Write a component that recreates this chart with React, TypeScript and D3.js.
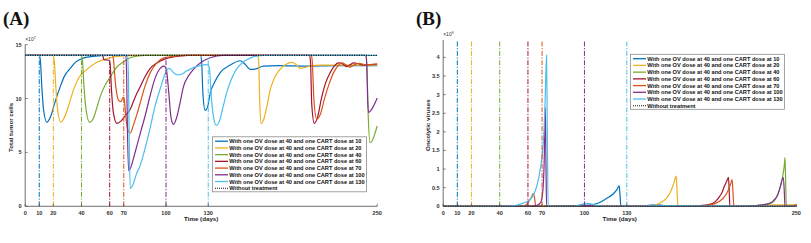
import React from "react";
import * as d3 from "d3";

const COLORS = ["#0072BD", "#EDB120", "#77AC30", "#A2142F", "#D95319", "#7E2F8E", "#4DBEEE"];
const cartDays = [10, 20, 40, 60, 70, 100, 130];
const xTicks = [0, 10, 20, 40, 60, 70, 100, 130, 250];
const tumorYTicks = [0, 5, 10, 15];
const virusYTicks = [0, 0.5, 1, 1.5, 2, 2.5, 3, 3.5, 4];
const legendLabels = [
  "With one OV dose at 40 and one CART dose at 10",
  "With one OV dose at 40 and one CART dose at 20",
  "With one OV dose at 40 and one CART dose at 40",
  "With one OV dose at 40 and one CART dose at 60",
  "With one OV dose at 40 and one CART dose at 70",
  "With one OV dose at 40 and one CART dose at 100",
  "With one OV dose at 40 and one CART dose at 130",
  "Without treatment",
];

// Panel A: total tumor cells (x10^7)
const tumorCart10 = [[0,14],[10,14],[10.8,13.5],[11.8,11.1],[13,9],[15.4,7.8],[18,8.3],[21,9.6],[24.9,11.1],[28,12.1],[32,12.8],[36,13.4],[40.2,13.7],[48,13.9],[60,14],[124.5,14],[125.3,13.4],[126.2,10.5],[127.8,8.9],[129.5,9.2],[131.4,10.5],[134.5,11.5],[138.5,12.4],[145.6,13.1],[152.7,13.5],[156,13.2],[159.8,12.7],[164,12.75],[169,13.0],[180,13.05],[200,13.0],[220,13.05],[250,13.05]];
const tumorCart20 = [[0,14],[20,14],[20.7,13.4],[21.8,11],[23,9],[25.3,7.8],[28,8.3],[31,9.4],[34.3,10.8],[38,11.9],[43.8,12.7],[50,13.3],[55.4,13.6],[65,13.9],[80,14],[165.2,14],[165.9,13.2],[166.6,9.5],[167.6,7.7],[169.5,8.1],[172,9.5],[174,10.8],[177,11.9],[181,12.7],[185,13.15],[189.4,13.35],[192,13.2],[195.3,12.8],[198,12.85],[202,13.0],[210,13.1],[250,13.1]];
const tumorCart40 = [[0,14],[40,14],[40.7,13.4],[41.8,11],[43.2,9],[45.7,7.8],[48.5,8.2],[51,9.2],[53.3,10.2],[57,11.3],[60.4,12.0],[65,12.9],[69.8,13.4],[75,13.8],[85,14],[242,14],[242.7,13],[243.6,8.5],[245,5.9],[246.5,6.1],[248,6.6],[250,7.45]];
const tumorCart60 = [[0,14],[55,14],[56,13.6],[59.5,13.55],[60.3,13.2],[61.2,11],[62.5,8.8],[65.1,7.7],[68,7.9],[71,8.4],[74.6,9.0],[78,10.1],[81.7,11.1],[85,12.0],[88.8,12.8],[93.5,13.3],[100,13.7],[105,13.85],[115,14],[202,14],[202.7,13.2],[203.5,9.5],[205.3,7.7],[207.5,8.2],[210.7,10.2],[213.5,11.5],[216.6,12.4],[219.5,13.0],[222.5,13.3],[225.5,13.2],[228.5,12.95],[231,13.15],[233,13.3],[236,13.25],[240,13.1],[245,13.15],[250,13.2]];
const tumorCart70 = [[0,14],[62,14],[62.8,13.5],[63.8,11.8],[65.1,10.4],[66.5,9.8],[68,9.7],[69.5,10.1],[70.3,10.0],[71,9.0],[72.5,7.3],[74.6,6.8],[77,7.6],[79.5,8.6],[81.7,9.6],[85,11.1],[88.8,12.4],[93.5,13.3],[98,13.75],[105,13.9],[115,14],[203.3,14],[204,13.2],[205,10],[207,8.1],[209.5,8.5],[213,10.2],[216,11.4],[219,12.4],[222,13.0],[225,13.3],[228,13.1],[230.5,12.9],[233.5,13.1],[237,13.25],[242,13.15],[250,13.2]];
const tumorCart100 = [[0,14],[71.5,14],[72,12.5],[72.5,8],[73.4,3.3],[75,3.6],[77,4.5],[79.3,5.6],[82,6.9],[85.2,8.4],[88.8,10.3],[92,11.8],[95.9,12.8],[98.5,13.0],[99.5,12.9],[100.5,12.5],[102,10.5],[103.5,8.3],[105.3,7.6],[107.5,8.2],[110,9.6],[112.4,11.1],[116,12.1],[119.5,12.7],[125.5,13.4],[132,13.8],[140,14],[242,14],[242.6,13],[243.2,10],[243.8,8.7],[245,8.8],[247,9.2],[250,10.05]];
const tumorCart130 = [[0,14],[72.8,14],[73.3,12],[73.9,6],[74.6,1.65],[76.5,2.0],[79,3.0],[81.7,3.8],[85,5.3],[88.8,7.3],[92,9.2],[95.9,10.9],[99.4,12.3],[101.8,12.8],[103.5,12.7],[105.3,12.4],[108,12.2],[111,12.25],[114,12.5],[117,12.7],[120,12.9],[124,13.05],[128,13.15],[130,13.1],[131,12.6],[132,10.5],[133.5,8.5],[135.7,7.5],[138,7.9],[140.5,9.2],[143,10.5],[146.5,11.8],[150,12.7],[154,13.3],[157.5,13.6],[163,13.9],[170,14],[250,14]];
const tumorNoTreatment = [[0,14],[250,14]];

// Panel B: oncolytic viruses (x10^9)
const virusCart10 = [[0,0],[80,0],[95,0.01],[105,0.04],[110,0.09],[115.6,0.21],[120.3,0.33],[123,0.45],[124.6,0.55],[125.2,0.3],[125.8,0],[140,0],[147,0.03],[152,0.04],[157,0.02],[165,0],[250,0]];
const virusCart20 = [[0,0],[140,0],[148,0.02],[152,0.06],[155,0.12],[158,0.21],[161.5,0.44],[163.5,0.65],[165,0.81],[165.6,0.4],[166.2,0],[215,0],[225,0.03],[240,0.04],[250,0.04]];
const virusCart40 = [[0,0],[215,0],[225,0.03],[230,0.06],[233.3,0.1],[236,0.25],[238,0.44],[240.3,0.8],[241.5,1.1],[242,1.31],[242.5,0.6],[243,0],[250,0]];
const virusCart60 = [[0,0],[175,0],[182,0.02],[187,0.04],[190.8,0.08],[193,0.14],[195.6,0.26],[197.5,0.38],[199,0.53],[200.8,0.68],[202,0.78],[202.5,0.4],[203,0],[250,0]];
const virusCart70 = [[0,0],[57,0],[59,0.05],[61,0.15],[62.5,0.25],[63.8,0.35],[64.8,0.2],[65.5,0],[180,0],[186,0.02],[190.8,0.05],[195,0.12],[198,0.21],[201.4,0.4],[203.5,0.6],[204.6,0.72],[205.2,0.35],[205.8,0],[245,0],[250,0.04]];
const virusCart100 = [[0,0],[60,0],[66,0.02],[69,0.1],[70.5,0.4],[71.5,1.2],[72.3,2.65],[72.8,1.0],[73.2,0],[90,0],[95,0.02],[100,0.03],[105,0.01],[110,0],[215,0],[225,0.03],[231,0.08],[234,0.16],[236.8,0.3],[238.5,0.5],[240.8,0.78],[241.5,0.4],[242,0],[250,0]];
const virusCart130 = [[0,0],[40,0],[48,0.01],[53,0.04],[56,0.08],[59,0.12],[62,0.2],[63.8,0.3],[65.5,0.45],[67.3,0.7],[68.5,0.95],[69.7,1.24],[70.5,1.55],[71.3,1.96],[72.2,2.9],[73.2,4.06],[73.7,2],[74.3,0],[92,0],[97,0.04],[101.5,0.08],[105,0.06],[109,0.02],[115,0],[140,0],[150,0.02],[165,0.02],[175,0.01],[250,0]];
const virusNoTreatment = [[0,0],[250,0]];

const tumorSeries = [tumorCart10, tumorCart20, tumorCart40, tumorCart60, tumorCart70, tumorCart100, tumorCart130];
const virusSeries = [virusCart10, virusCart20, virusCart40, virusCart60, virusCart70, virusCart100, virusCart130];

const FONT = "'Liberation Sans', Arial, sans-serif";
const AXIS = "#4a4a4a";

type PanelProps = {
  x0: number; x1: number; y0: number; y1: number; yMax: number;
  yTicks: number[]; series: number[][][]; baseline: number[][];
  vTop: number; yLabel: string; exp: string; title: string; titleX: number;
  yLabelX: number; legend: { x: number; y: number };
  tickFmt: (v: number) => string;
};

function Panel(p: PanelProps) {
  const x = d3.scaleLinear().domain([0, 250]).range([p.x0, p.x1]);
  const y = d3.scaleLinear().domain([0, p.yMax]).range([p.y0, p.y1]);
  const line = d3.line<number[]>().x(d => x(d[0])).y(d => y(d[1])).curve(d3.curveMonotoneX);
  const lw = 154, lh = 55, row = 6.72;
  return (
    <g>
      <text x={p.titleX} y={25} fontFamily="'Liberation Serif', 'Times New Roman', serif" fontWeight="bold" fontSize={19} fill="#111">{p.title}</text>
      {p.series.map((s, i) => (
        <path key={"s" + i} d={line(s) || ""} fill="none" stroke={COLORS[i]} strokeWidth={1.2} />
      ))}
      {cartDays.map((d, i) => (
        <line key={"v" + i} x1={x(d)} x2={x(d)} y1={y(0)} y2={y(p.vTop)} stroke={COLORS[i]} strokeWidth={1} strokeDasharray="5,1.6,1.2,1.6" />
      ))}
      <path d={line(p.baseline) || ""} fill="none" stroke="#111" strokeWidth={1.3} strokeDasharray="1.2,1.2" />
      {/* axes */}
      <line x1={p.x0} x2={p.x0} y1={p.y0} y2={y(p.yMax)} stroke={AXIS} strokeWidth={0.8} />
      <line x1={p.x0} x2={p.x1} y1={p.y0} y2={p.y0} stroke={AXIS} strokeWidth={0.8} />
      {xTicks.map(t => (
        <g key={"xt" + t}>
          <line x1={x(t)} x2={x(t)} y1={p.y0} y2={p.y0 - 2.5} stroke={AXIS} strokeWidth={0.7} />
          <text x={x(t)} y={p.y0 + 8.3} textAnchor="middle" fontFamily={FONT} fontWeight="bold" fontSize={5.6} fill="#333">{t}</text>
        </g>
      ))}
      {p.yTicks.map(t => (
        <g key={"yt" + t}>
          <line x1={p.x0} x2={p.x0 + 2.5} y1={y(t)} y2={y(t)} stroke={AXIS} strokeWidth={0.7} />
          <text x={p.x0 - 3.5} y={y(t) + 2} textAnchor="end" fontFamily={FONT} fontWeight="bold" fontSize={5.6} fill="#333">{p.tickFmt(t)}</text>
        </g>
      ))}
      <text x={p.x0} y={y(p.yMax) - 4} fontFamily={FONT} fontSize={5} fill="#333">
        ×10<tspan fontSize={3.6} dy={-2}>{p.exp}</tspan>
      </text>
      <text x={(p.x0 + p.x1) / 2} y={221} textAnchor="middle" fontFamily={FONT} fontWeight="bold" fontSize={6.2} fill="#222">Time (days)</text>
      <text transform={`translate(${p.yLabelX},${(p.y0 + y(p.yMax)) / 2 + 2}) rotate(-90)`} textAnchor="middle" fontFamily={FONT} fontWeight="bold" fontSize={6.2} fill="#222">{p.yLabel}</text>
      {/* legend */}
      <g transform={`translate(${p.legend.x},${p.legend.y})`}>
        <rect x={0} y={0} width={lw} height={lh} fill="#fff" stroke="#8c8c8c" strokeWidth={0.8} />
        {legendLabels.map((lab, i) => {
          const cy = 4.4 + i * row;
          return (
            <g key={"lg" + i}>
              {i < 7 ? (
                <line x1={2.5} x2={15.5} y1={cy} y2={cy} stroke={COLORS[i]} strokeWidth={1.3} />
              ) : (
                <line x1={2.5} x2={15.5} y1={cy} y2={cy} stroke="#111" strokeWidth={1.1} strokeDasharray="1,1" />
              )}
              <text x={16.8} y={cy + 2} fontFamily={FONT} fontWeight="bold" fontSize={5.65} fill="#111">{lab}</text>
            </g>
          );
        })}
      </g>
    </g>
  );
}

export default function App() {
  return (
    <svg width={811} height={243} style={{ position: "absolute", left: 0, top: 0, background: "#fff" }}>
      <rect width={811} height={243} fill="#fff" />
      <Panel
        x0={25.2} x1={377.2} y0={206.3} y1={44.6} yMax={15}
        yTicks={tumorYTicks} series={tumorSeries} baseline={tumorNoTreatment}
        vTop={14} yLabel="Total tumor cells" exp="7" title="(A)" titleX={3}
        yLabelX={12.5} legend={{ x: 212.5, y: 136.8 }}
        tickFmt={v => String(v)}
      />
      <Panel
        x0={443.2} x1={796.3} y0={206.3} y1={39.9} yMax={4.47}
        yTicks={virusYTicks} series={virusSeries} baseline={virusNoTreatment}
        vTop={4.43} yLabel="Oncolytic viruses" exp="9" title="(B)" titleX={416}
        yLabelX={430} legend={{ x: 630.5, y: 54.3 }}
        tickFmt={v => String(v)}
      />
    </svg>
  );
}
